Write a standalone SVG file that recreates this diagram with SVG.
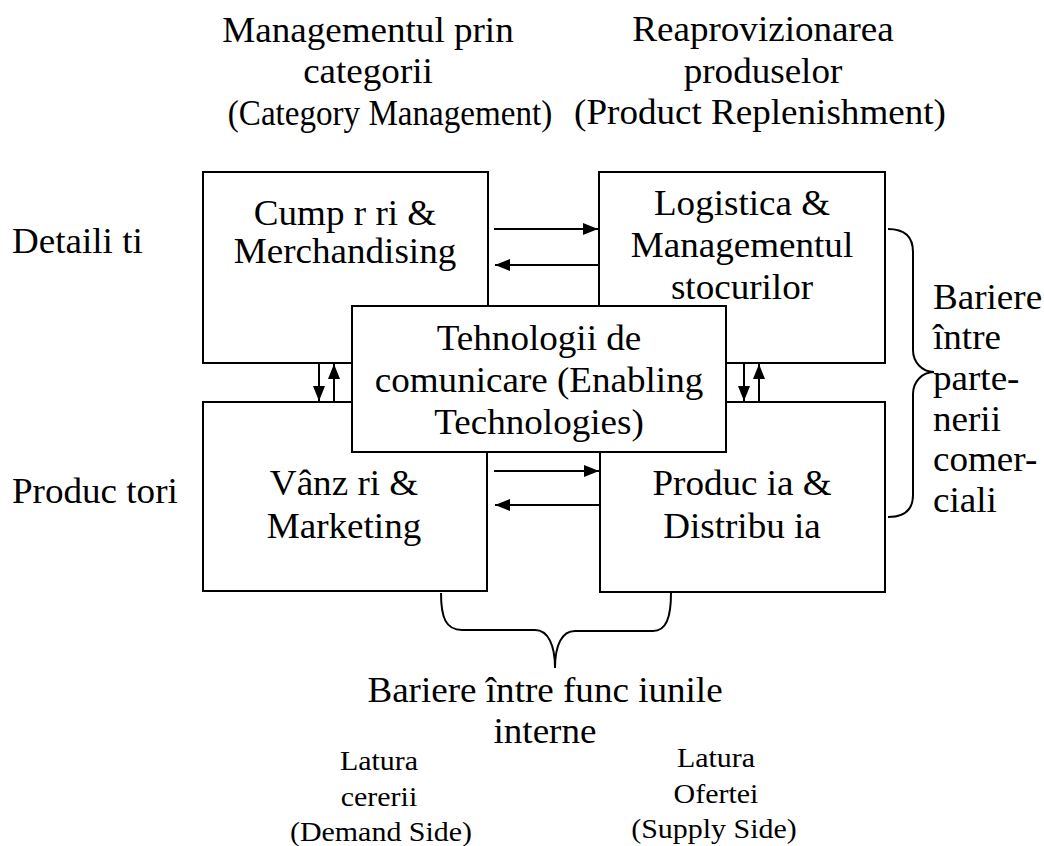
<svg xmlns="http://www.w3.org/2000/svg" width="1044" height="846" viewBox="0 0 1044 846">
<style>
  .t { font-family: "Liberation Serif", "Times New Roman", serif; font-size: 35px; fill: #000; }
  .s { font-family: "Liberation Serif", "Times New Roman", serif; font-size: 28px; fill: #000; }
  .m { text-anchor: middle; }
  .box { fill: #fff; stroke: #000; stroke-width: 2; }
  .arr { fill: none; stroke: #000; stroke-width: 2; marker-end: url(#ah); }
  .brace { fill: none; stroke: #000; stroke-width: 2; }
</style>
<defs>
  <marker id="ah" viewBox="0 0 15 12" refX="15" refY="6" markerWidth="15" markerHeight="12" markerUnits="userSpaceOnUse" orient="auto">
    <path d="M0,0 L15,6 L0,12 z" fill="#000"/>
  </marker>
</defs>
<rect width="1044" height="846" fill="#fff"/>

<g id="label-category">
  <text class="t m" transform="translate(368 0) scale(1.06 1)" y="42">Managementul prin</text>
  <text class="t m" transform="translate(368 0) scale(1.06 1)" y="83">categorii</text>
  <text class="t m" transform="translate(390 0) scale(1.06 1)" y="125" textLength="306" lengthAdjust="spacingAndGlyphs">(Category Management)</text>
</g>
<g id="label-replenishment">
  <text class="t m" transform="translate(763 0) scale(1.06 1)" y="41">Reaprovizionarea</text>
  <text class="t m" transform="translate(763 0) scale(1.06 1)" y="83">produselor</text>
  <text class="t m" transform="translate(760 0) scale(1.06 1)" y="124">(Product Replenishment)</text>
</g>
<g id="label-retailers">
  <text class="t" transform="translate(12 0) scale(1.06 1)" y="253">Detaili ti</text>
</g>
<g id="label-producers">
  <text class="t" transform="translate(12 0) scale(1.06 1)" y="503">Produc tori</text>
</g>

<g id="node-purchasing">
  <rect class="box" x="203" y="172" width="285" height="191"/>
  <text class="t m" transform="translate(345 0) scale(1.06 1)" y="225">Cump r ri &amp;</text>
  <text class="t m" transform="translate(345 0) scale(1.06 1)" y="263">Merchandising</text>
</g>
<g id="node-logistics">
  <rect class="box" x="599" y="172" width="286" height="191"/>
  <text class="t m" transform="translate(742 0) scale(1.06 1)" y="215">Logistica &amp;</text>
  <text class="t m" transform="translate(742 0) scale(1.06 1)" y="257">Managementul</text>
  <text class="t m" transform="translate(742 0) scale(1.06 1)" y="299">stocurilor</text>
</g>
<g id="node-sales">
  <rect class="box" x="203" y="402" width="284" height="189"/>
  <text class="t m" transform="translate(344 0) scale(1.06 1)" y="495">Vânz ri &amp;</text>
  <text class="t m" transform="translate(344 0) scale(1.06 1)" y="538">Marketing</text>
</g>
<g id="node-production">
  <rect class="box" x="600" y="402" width="285" height="190"/>
  <text class="t m" transform="translate(742 0) scale(1.06 1)" y="495">Produc ia &amp;</text>
  <text class="t m" transform="translate(742 0) scale(1.06 1)" y="538">Distribu ia</text>
</g>
<g id="node-technologies">
  <rect class="box" x="352" y="306" width="374" height="146"/>
  <text class="t m" transform="translate(539 0) scale(1.06 1)" y="350">Tehnologii de</text>
  <text class="t m" transform="translate(539 0) scale(1.06 1)" y="392">comunicare (Enabling</text>
  <text class="t m" transform="translate(539 0) scale(1.06 1)" y="434">Technologies)</text>
</g>

<g id="connectors">
  <line class="arr" x1="494" y1="229" x2="598" y2="229"/>
  <line class="arr" x1="598" y1="265" x2="495" y2="265"/>
  <line class="arr" x1="494" y1="471" x2="599" y2="471"/>
  <line class="arr" x1="599" y1="505" x2="495" y2="505"/>
  <line class="arr" x1="319" y1="363" x2="319" y2="401"/>
  <line class="arr" x1="334" y1="402" x2="334" y2="364"/>
  <line class="arr" x1="744" y1="363" x2="744" y2="401"/>
  <line class="arr" x1="759" y1="402" x2="759" y2="364"/>
</g>

<g id="brace-partners">
  <path class="brace" d="M888,229 C906,229 913,238 913,252 L913,350 C913,362 922,372 934,372 C922,372 913,382 913,394 L913,495 C913,509 906,517 888,517"/>
  <text class="t" transform="translate(933 0) scale(1.06 1)" y="309">Bariere</text>
  <text class="t" transform="translate(933 0) scale(1.06 1)" y="349">între</text>
  <text class="t" transform="translate(933 0) scale(1.06 1)" y="390">parte-</text>
  <text class="t" transform="translate(933 0) scale(1.06 1)" y="431">nerii</text>
  <text class="t" transform="translate(933 0) scale(1.06 1)" y="471">comer-</text>
  <text class="t" transform="translate(933 0) scale(1.06 1)" y="512">ciali</text>
</g>

<g id="brace-internal">
  <path class="brace" d="M441,593 C441,618 446,630 462,630 L535,630 C548,630 555,645 555,668 C555,645 562,631 575,631 L653,631 C666,631 671,618 671,593"/>
  <text class="t m" transform="translate(545 0) scale(1.06 1)" y="702">Bariere între func iunile</text>
  <text class="t m" transform="translate(545 0) scale(1.06 1)" y="743">interne</text>
</g>

<g id="label-demand">
  <text class="s m" transform="translate(379 0) scale(1.07 1)" y="770">Latura</text>
  <text class="s m" transform="translate(379 0) scale(1.07 1)" y="806">cererii</text>
  <text class="s m" transform="translate(381 0) scale(1.07 1)" y="841">(Demand Side)</text>
</g>
<g id="label-supply">
  <text class="s m" transform="translate(716 0) scale(1.07 1)" y="767">Latura</text>
  <text class="s m" transform="translate(716 0) scale(1.07 1)" y="803">Ofertei</text>
  <text class="s m" transform="translate(714 0) scale(1.07 1)" y="838">(Supply Side)</text>
</g>
</svg>
